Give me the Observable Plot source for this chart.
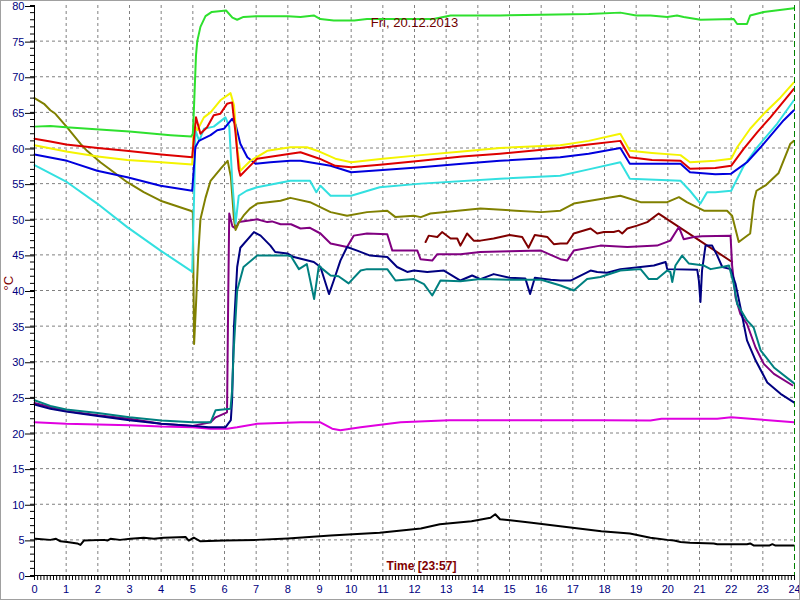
<!DOCTYPE html>
<html>
<head>
<meta charset="utf-8">
<script src="https://cdn.jsdelivr.net/npm/d3@7"></script>
<script src="https://cdn.jsdelivr.net/npm/@observablehq/plot@0.6"></script>
<style>
  html, body { margin: 0; padding: 0; background: #fff; }
  #wrap { position: relative; width: 800px; height: 600px; overflow: hidden; }
  #border { position: absolute; left: 0; top: 0; width: 800px; height: 600px; box-sizing: border-box; border: 1px solid #a0a0a0; pointer-events: none; }
</style>
</head>
<body>
<div id="wrap"><div id="chart"></div><div id="border"></div></div>
<script>
// ---- data: [hour, °C] ----
const titleText = "Fri, 20.12.2013";
const xLabel = "Time [23:57]";
const yLabel = "°C";
const xTicks = d3.range(0, 25, 1);
const yTicks = d3.range(0, 81, 5);

const green = [[0,63],[0.5,63.1],[1,62.9],[2.4,62.5],[3,62.3],[4.3,61.8],[4.95,61.6],[5.0,62],[5.03,65],[5.1,73],[5.14,75],[5.24,77],[5.4,78.5],[5.6,79.1],[6.05,79.3],[6.25,78.3],[6.4,78],[6.6,78.4],[7,78.5],[8,78.5],[8.4,78.4],[8.82,78.6],[9.03,78.1],[9.45,77.9],[10.1,77.9],[10.5,78.1],[11.5,78.1],[12.6,78.1],[13.14,78.6],[14.7,78.6],[16,78.7],[17.5,78.8],[18.5,79],[19,78.6],[19.45,78.6],[19.98,78.4],[20.29,78.6],[20.5,78.4],[21.03,78],[22.08,78.1],[22.19,77.4],[22.5,77.4],[22.6,78.6],[23.03,79.1],[23.98,79.6]];
const red = [[0,61.3],[0.5,60.9],[1,60.5],[2,60],[2.9,59.6],[4,59.1],[4.98,58.7],[5.05,62],[5.1,64.3],[5.24,62],[5.45,62.9],[5.66,64.6],[5.87,64.8],[6.08,66.2],[6.24,66.4],[6.35,62],[6.45,57],[6.5,56.1],[6.72,57.1],[7.03,58.5],[8.08,59.2],[8.4,59.4],[9,58.5],[9.5,57.5],[10,57.3],[11,57.7],[12.2,58.2],[13.5,58.8],[14.7,59.2],[16.6,60],[17.5,60.5],[18.5,61],[18.8,58.7],[19.5,58.3],[20.4,58.2],[20.7,57.1],[21.5,57.2],[22,57.5],[22.4,59.9],[22.82,62.2],[23.24,64.3],[23.98,68.3]];
const yellow = [[0,60.4],[1,59.5],[2,58.8],[2.93,58.3],[4,58],[4.98,57.7],[5.03,63.4],[5.14,62.5],[5.35,64.3],[5.56,65],[5.87,66.7],[6.19,67.7],[6.3,66],[6.4,60],[6.5,56.8],[6.82,58.2],[7.35,59.6],[8.08,60.1],[8.6,60.1],[9,59.5],[9.5,58.5],[10,58],[11,58.5],[12.2,59],[13.5,59.5],[14.7,60],[16.6,60.4],[17.5,61],[18.5,62],[18.8,59.6],[19.5,59.3],[20.4,59],[20.7,58],[21.5,58.2],[22,58.5],[22.19,60.1],[22.6,62.7],[23.03,64.8],[23.56,67.1],[23.98,69.2]];
const blue = [[0,59.1],[1.03,58.2],[1.98,56.8],[2.93,55.9],[3.98,54.7],[4.98,54],[5.08,60.1],[5.19,61],[5.56,61.8],[5.77,62.5],[5.98,62.7],[6.24,64.1],[6.35,63.3],[6.5,60.6],[6.72,58.7],[6.98,57.8],[7.45,58],[8.08,58.2],[8.4,58.2],[9.35,57.5],[10,56.6],[11,56.9],[12.2,57.3],[13.5,57.8],[14.7,58.2],[16.6,58.7],[17.5,59.2],[18.5,60],[18.8,57.8],[20.4,57.8],[20.7,56.6],[21.5,56.3],[22,56.4],[22.5,58],[22.93,60.1],[23.66,63.9],[23.98,65.3]];
const cyan = [[0,57.6],[1.03,55.2],[1.98,52.2],[2.93,48.9],[3.98,45.6],[4.93,42.8],[4.98,42.6],[5.05,55],[5.08,62.5],[5.2,61],[5.35,62.7],[5.66,63],[6.03,64.3],[6.15,63],[6.25,55],[6.35,49.4],[6.45,53.3],[6.7,54],[7.03,54.5],[8.08,55.4],[8.7,55.4],[8.9,53.8],[9.03,54.7],[9.35,53.3],[10,53.3],[10.9,54.5],[12.2,55],[14.7,55.7],[16.6,56.1],[17.5,57],[18.5,58],[18.8,55.7],[20.4,55.4],[20.7,54],[21.03,52.2],[21.24,53.8],[21.5,53.8],[22,54],[22.4,57.5],[22.82,60.1],[23.45,63.4],[23.98,66.7]];
const olive = [[0,67],[0.3,66.2],[0.5,65.3],[0.66,64.8],[1.03,62.9],[1.45,60.6],[1.66,59.6],[2.08,58],[2.93,55.2],[3.45,53.8],[3.98,52.6],[4.93,51.2],[5.0,51],[5.04,32.5],[5.1,38],[5.17,45],[5.24,50],[5.4,53],[5.56,55.4],[5.9,57.2],[6.1,58.2],[6.2,56],[6.3,50],[6.35,48.5],[6.45,49.5],[6.6,50.5],[6.8,51.5],[7.03,52.2],[7.77,52.6],[8.08,53],[8.7,52.4],[9.35,51],[9.87,50.5],[10.5,51],[11.14,51.2],[11.4,50.3],[11.98,50.5],[12.2,50.3],[12.5,50.8],[14.08,51.5],[15.2,51.2],[16,51],[16.61,51.2],[17.03,52.2],[18.5,53.3],[19.14,52.4],[19.98,52.4],[20.35,53.1],[20.6,52.4],[21.14,51.2],[21.87,51.2],[22.03,50.5],[22.24,46.8],[22.45,47.5],[22.6,48],[22.72,52.6],[22.8,54],[23.1,54.8],[23.5,56.5],[23.87,60.6],[23.98,61]];
const purple = [[0,24.2],[1,23.1],[2,22.5],[3,22],[4,21.3],[5,21],[5.56,21.5],[5.72,22.2],[6.08,22.9],[6.12,40],[6.15,50.8],[6.25,49],[6.35,48.7],[6.45,49.6],[7.03,50],[7.35,49.6],[7.5,49.7],[7.77,49.3],[8.1,49.3],[8.4,48.7],[8.7,48.8],[9.03,48],[9.35,46.6],[9.87,46.1],[10.08,47.7],[10.5,48],[11.14,47.9],[11.3,45.6],[12.09,45.6],[12.19,44.4],[12.56,44.2],[12.72,45.1],[13.45,45.1],[14.08,45.4],[15,45.5],[16,45.6],[16.3,45],[16.61,44.4],[16.82,44.2],[17.03,45.6],[17.87,46.3],[18.72,46.1],[19.66,46.3],[20.08,47],[20.35,48.9],[20.5,47.2],[20.82,47.5],[21.08,47.6],[21.98,47.7],[22.03,43.5],[22.14,39],[22.29,36.7],[22.5,35.3],[22.77,32],[23.03,29.7],[23.35,28.3],[23.93,26.7]];
const maroon = [[12.35,46.8],[12.45,47.7],[12.72,47.5],[12.87,48.2],[13.14,47.3],[13.35,47.3],[13.45,46.3],[13.66,48],[13.87,47],[14.08,47],[14.5,47.3],[15,47.8],[15.4,47.5],[15.6,46],[15.8,47.8],[16.2,47.5],[16.4,46.5],[16.61,46.6],[16.82,46.6],[17.03,48],[17.56,48.7],[17.77,48],[17.98,48.2],[18.29,48.2],[18.45,48.4],[18.56,48],[18.72,48.7],[19.03,49.1],[19.35,49.6],[19.71,50.8],[22.03,44]];
const navy = [[0,24],[0.5,23.4],[1,23],[2,22.4],[3,21.8],[4,21.3],[5,21],[5.5,20.8],[6.03,20.8],[6.2,21.8],[6.24,24.6],[6.3,35],[6.4,43.3],[6.5,46],[6.93,48.2],[7.14,47.7],[7.45,46.3],[7.6,45.4],[7.98,45.2],[8.19,44.7],[8.82,44],[9.03,43.3],[9.3,39.5],[9.45,41.4],[9.66,44.2],[9.87,46.1],[10.19,45.6],[10.6,44.9],[11.14,44.7],[11.45,43.3],[11.77,42.6],[11.98,42.8],[12.4,42.6],[12.93,42.8],[13.45,41.4],[13.82,42.1],[14.08,41.6],[14.5,42.3],[15,41.8],[15.5,41.7],[15.65,39.5],[15.8,41.8],[16.3,41.5],[16.61,41.4],[16.93,41.4],[17.56,42.8],[17.77,42.6],[18.08,42.5],[18.5,43],[19.14,43.3],[19.56,43.5],[19.93,44],[19.98,43],[20.93,42.9],[20.98,41.4],[21.03,38.4],[21.08,42.8],[21.19,46.3],[21.4,46.3],[21.56,44.9],[21.72,43.3],[21.98,43],[22.14,40.9],[22.29,37.7],[22.5,33],[22.77,30.2],[23.14,27.1],[23.56,25.5],[23.98,24.3]];
const teal = [[0,24.6],[0.5,23.8],[1,23.3],[2,22.8],[3,22.2],[4,21.75],[5,21.5],[5.56,21.5],[5.72,23.2],[6.19,23.4],[6.24,26],[6.29,31.6],[6.4,40],[6.6,43.3],[7.03,44.9],[7.98,44.9],[8.1,44.8],[8.35,43],[8.6,43.7],[8.83,38.8],[8.98,43.5],[9.1,43],[9.35,42.1],[9.6,42],[9.92,41],[10.3,42.8],[10.5,43],[11.14,43],[11.4,41.4],[11.98,41.6],[12.3,40.9],[12.56,39.3],[12.82,41.4],[13.45,41.3],[14.08,41.6],[15,41.5],[16,41.5],[16.61,40.7],[17.03,40],[17.45,41.6],[17.87,41.9],[18.5,42.8],[19.14,43],[19.4,41.6],[19.66,41.6],[19.98,42.8],[20.08,42.6],[20.14,41.2],[20.24,43.5],[20.45,44.9],[20.66,43.8],[21.14,43.5],[21.35,43],[21.72,43.3],[21.93,43.5],[22.08,40.9],[22.19,38.1],[22.5,35.8],[22.71,34.8],[22.93,31.6],[23.35,29.2],[23.98,27]];
const magenta = [[0,21.5],[1,21.3],[2,21.2],[3,21.1],[4,20.9],[5,20.8],[5.56,20.6],[6.08,20.6],[6.4,20.8],[7.03,21.3],[8.4,21.5],[9.03,21.5],[9.4,20.6],[9.66,20.4],[10.3,20.8],[11.56,21.5],[13.1,21.8],[17.9,21.8],[19.45,21.75],[19.8,22],[21.56,22],[22,22.2],[22.9,21.9],[23.98,21.5]];
const black = [[0.03,5.15],[0.5,5],[0.68,5.15],[0.82,4.8],[1.03,4.7],[1.35,4.5],[1.45,4.3],[1.56,4.9],[2.2,5],[2.3,4.9],[2.4,5.15],[2.7,5],[3.03,5.15],[3.45,5.3],[3.77,5.15],[4.08,5.3],[4.77,5.4],[4.87,4.9],[5.03,5.3],[5.24,4.8],[6,4.9],[7,5],[8,5.2],[9.35,5.6],[10.9,6],[12.2,6.6],[12.8,7.2],[13.8,7.6],[14.4,8.1],[14.55,8.6],[14.7,7.9],[15.7,7.4],[16.6,6.9],[17.9,6.2],[18.8,5.9],[19.45,5.3],[19.98,5],[20.2,4.9],[20.4,4.7],[20.7,4.6],[21.45,4.5],[21.56,4.4],[22.5,4.4],[22.6,4.5],[22.72,4.2],[23.2,4.2],[23.3,4.4],[23.4,4.2],[23.98,4.2]];

const series = [
  {data: magenta, color: "#e000e0"},
  {data: black, color: "#000000"},
  {data: maroon, color: "#800000"},
  {data: purple, color: "#800080"},
  {data: navy, color: "#000080"},
  {data: teal, color: "#008080"},
  {data: olive, color: "#808000"},
  {data: cyan, color: "#33e0e0"},
  {data: blue, color: "#0000dd"},
  {data: yellow, color: "#f4f400"},
  {data: red, color: "#dd0000"},
  {data: green, color: "#2ee02e"}
];

const grid = {stroke: "#808080", strokeDasharray: "3,3", strokeWidth: 1, strokeOpacity: 1};

const chart = Plot.plot({
  width: 800,
  height: 600,
  marginLeft: 34,
  marginRight: 6,
  marginTop: 5,
  marginBottom: 25,
  style: {fontFamily: "Arial, 'Liberation Sans', sans-serif", fontSize: "11px", background: "#fff", overflow: "visible"},
  x: {domain: [0, 24]},
  y: {domain: [0, 80]},
  marks: [
    Plot.ruleX(d3.range(1, 24), grid),
    Plot.ruleY(d3.range(5, 80, 5), grid),
    ...series.map(s => Plot.line(s.data, {x: d => d[0], y: d => d[1], stroke: s.color, strokeWidth: 2})),
    Plot.ruleX([24], {stroke: "#008000", strokeDasharray: "6,3", strokeWidth: 1}),
    Plot.ruleX([0], {stroke: "#000"}),
    Plot.ruleY([0], {stroke: "#000"}),
    Plot.axisY(d3.range(0, 81, 1), {tickSize: 4, text: null, stroke: "#000", label: null}),
    Plot.axisY(yTicks, {tickSize: 9, tickPadding: 1, stroke: "#000", fill: "#000080", label: null, fontSize: 11, dy: 1}),
    Plot.axisX(d3.range(0, 240).map(i => i / 10), {tickSize: 5, text: null, stroke: "#000", label: null}),
    Plot.axisX(xTicks, {tickSize: 5, tickPadding: 5, stroke: "#000", fill: "#000080", label: null, fontSize: 11}),
    Plot.text([titleText], {frameAnchor: "top", dy: 12, fill: "#700000", fontSize: 13}),
    Plot.text([xLabel], {frameAnchor: "bottom", dx: 7, dy: -6, fill: "#800000", fontSize: 12, fontWeight: "bold"}),
    Plot.text([yLabel], {frameAnchor: "left", dx: -26, rotate: -90, fill: "#800000", fontSize: 13})
  ]
});
document.getElementById("chart").appendChild(chart);
</script>
</body>
</html>
